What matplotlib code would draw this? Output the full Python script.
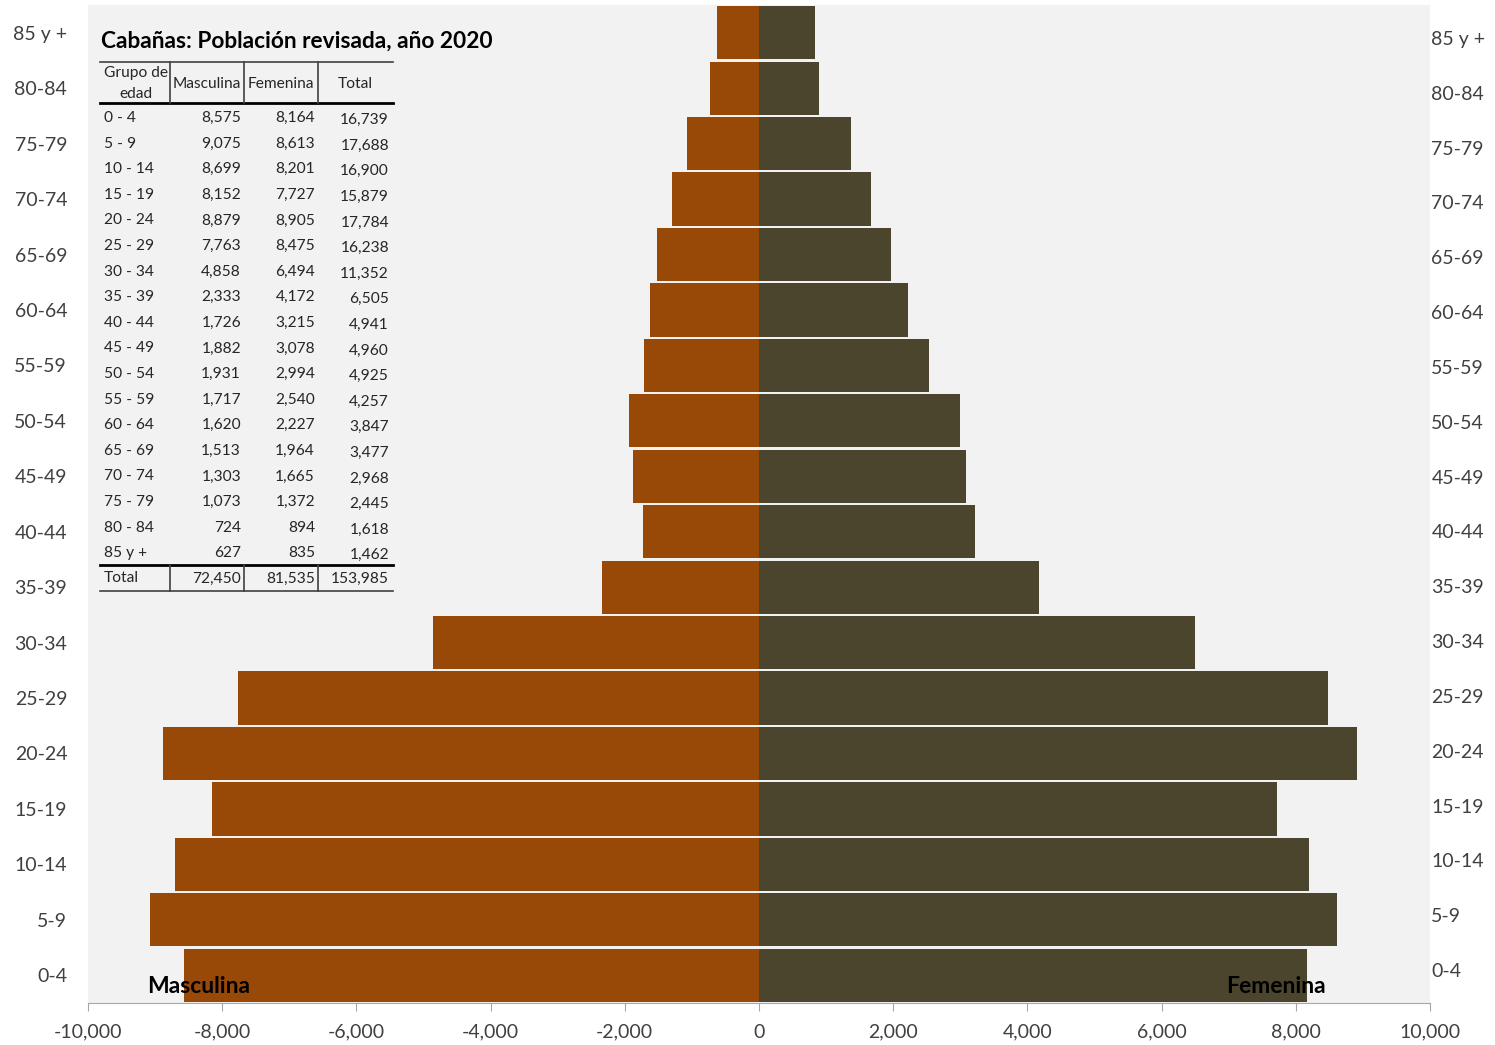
import numpy as np
import matplotlib.pyplot as plt
from matplotlib.ticker import FuncFormatter

plt.rcParams['font.family'] = ['Lato', 'DejaVu Sans']

# --- Datos ---
grupos = ['0-4', '5-9', '10-14', '15-19', '20-24', '25-29', '30-34', '35-39', '40-44',
          '45-49', '50-54', '55-59', '60-64', '65-69', '70-74', '75-79', '80-84', '85 y +']
grupos_tabla = ['0 - 4', '5 - 9', '10 - 14', '15 - 19', '20 - 24', '25 - 29', '30 - 34',
                '35 - 39', '40 - 44', '45 - 49', '50 - 54', '55 - 59', '60 - 64',
                '65 - 69', '70 - 74', '75 - 79', '80 - 84', '85 y +']
masculina = [8575, 9075, 8699, 8152, 8879, 7763, 4858, 2333, 1726,
             1882, 1931, 1717, 1620, 1513, 1303, 1073, 724, 627]
femenina = [8164, 8613, 8201, 7727, 8905, 8475, 6494, 4172, 3215,
            3078, 2994, 2540, 2227, 1964, 1665, 1372, 894, 835]
titulo = 'Cabañas: Población revisada, año 2020'

c_masc = '#984807'
c_fem = '#4a452c'

W, H = 1495, 1045
fig = plt.figure(figsize=(W / 100, H / 100), dpi=100)
ax = fig.add_axes([88 / W, 42 / H, (1430 - 88) / W, (1003 - 5) / H])
ax.set_facecolor('#f2f2f2')

y = np.arange(len(grupos))
m = np.array(masculina)
f = np.array(femenina)
ax.barh(y, -m, height=0.96, color=c_masc)
ax.barh(y, f, height=0.96, color=c_fem)

ax.set_xlim(-10000, 10000)
ax.set_ylim(-0.5, len(grupos) - 0.5)
ax.set_xticks(np.arange(-10000, 10001, 2000))
ax.xaxis.set_major_formatter(FuncFormatter(lambda v, p: f'{int(v):,}'))
ax.set_yticks(y)
ax.set_yticklabels(grupos)
for s in ['top', 'right', 'left']:
    ax.spines[s].set_visible(False)
ax.spines['bottom'].set_color('#a6a6a6')
ax.tick_params(axis='x', direction='out', length=6, color='#a6a6a6',
               labelsize=14, labelcolor='#404040', pad=9)
ax.tick_params(axis='y', length=0, labelsize=14, labelcolor='#404040', pad=15)

ax2 = ax.twinx()
ax2.set_ylim(-0.602, len(grupos) - 1 + 0.602)
ax2.set_yticks(y)
ax2.set_yticklabels(grupos)
for s in ['top', 'right', 'left', 'bottom']:
    ax2.spines[s].set_visible(False)
ax2.tick_params(axis='y', length=0, labelsize=14, labelcolor='#404040', pad=1)

ax.text(-8346, -0.21, 'Masculina', ha='center', va='center', fontsize=16.5, fontweight='bold')
ax.text(7705, -0.21, 'Femenina', ha='center', va='center', fontsize=16.5, fontweight='bold')


# --- Tabla ---
def fx(px):
    return px / W


def fy(py):
    return 1 - py / H


fig.text(fx(101), fy(41), titulo, fontsize=16.3, fontweight='bold', va='center', ha='left')

fs = 11.2
tc = '#262626'
fig.text(fx(136), fy(73), 'Grupo de', fontsize=fs, ha='center', va='center', color=tc)
fig.text(fx(136), fy(94), 'edad', fontsize=fs, ha='center', va='center', color=tc)
fig.text(fx(207), fy(84), 'Masculina', fontsize=fs, ha='center', va='center', color=tc)
fig.text(fx(281), fy(84), 'Femenina', fontsize=fs, ha='center', va='center', color=tc)
fig.text(fx(355), fy(84), 'Total', fontsize=fs, ha='center', va='center', color=tc)

for i, g in enumerate(grupos_tabla):
    ry = 118 + i * 25.6
    fig.text(fx(104), fy(ry), g, fontsize=fs, ha='left', va='center', color=tc)
    fig.text(fx(241), fy(ry), f'{masculina[i]:,}', fontsize=fs, ha='right', va='center', color=tc)
    fig.text(fx(315), fy(ry), f'{femenina[i]:,}', fontsize=fs, ha='right', va='center', color=tc)
    fig.text(fx(389), fy(ry + 2), f'{masculina[i] + femenina[i]:,}', fontsize=fs,
             ha='right', va='center', color=tc)

ry = 578
fig.text(fx(104), fy(ry), 'Total', fontsize=fs, ha='left', va='center', color=tc)
fig.text(fx(241), fy(ry + 1), f'{sum(masculina):,}', fontsize=fs, ha='right', va='center', color=tc)
fig.text(fx(315), fy(ry + 1), f'{sum(femenina):,}', fontsize=fs, ha='right', va='center', color=tc)
fig.text(fx(389), fy(ry + 1), f'{sum(masculina) + sum(femenina):,}', fontsize=fs,
         ha='right', va='center', color=tc)


def hline(py, lw, col):
    fig.add_artist(plt.Line2D([fx(100), fx(393)], [fy(py), fy(py)], lw=lw, color=col))


def vline(px, py0, py1):
    fig.add_artist(plt.Line2D([fx(px), fx(px)], [fy(py0), fy(py1)], lw=1.2, color='#404040'))


hline(62, 1.2, '#404040')
hline(103, 2, '#000000')
hline(565, 2, '#000000')
hline(591, 1.2, '#404040')
for px in [170, 244, 318]:
    vline(px, 62, 103)
    vline(px, 565, 591)

fig.savefig('out.png', dpi=100)
